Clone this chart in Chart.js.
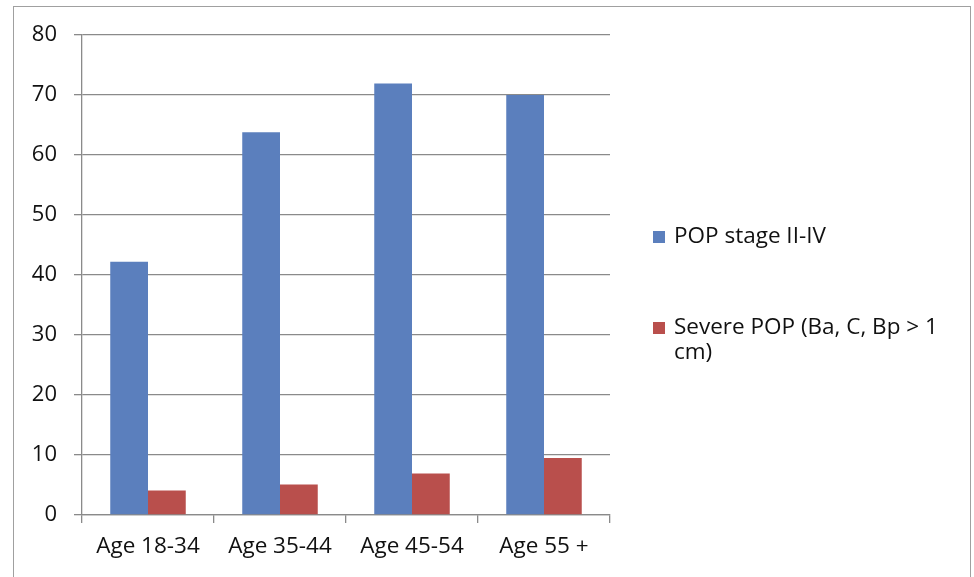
<!DOCTYPE html>
<html>
<head>
<meta charset="utf-8">
<script src="https://cdn.jsdelivr.net/npm/chart.js@4.4.1/dist/chart.umd.min.js"></script>
<style>
  body { margin: 0; background: #fff; }
  #wrap { position: relative; width: 974px; height: 577px; }
  #frame { position: absolute; left: 13px; top: 6px; width: 958px; height: 580px;
           border: 1px solid #a0a0a0; border-bottom: none; box-sizing: border-box; }
  canvas { position: absolute; left: 0; top: 0; }
</style>
</head>
<body>
<div id="wrap">
  <div id="frame"></div>
  <canvas id="chart" width="974" height="577"></canvas>
</div>
<script>
const categories = ['Age 18-34', 'Age 35-44', 'Age 45-54', 'Age 55 +'];
const popStage = [42.2, 63.8, 71.9, 70.0];
const severePop = [4.1, 5.1, 6.9, 9.5];
const seriesNames = ['POP stage II-IV', 'Severe POP (Ba, C, Bp > 1 cm)'];
const yTicks = [0, 10, 20, 30, 40, 50, 60, 70, 80];

const FONT = '"Open Sans", "Liberation Sans", sans-serif';
const TEXT = '#111';

// legend drawn by hand so the long label wraps like the original
const sideLegend = {
    id: 'sideLegend',
    afterDraw(chart) {
        const ctx = chart.ctx;
        const rows = [237, 328];
        ctx.save();
        ctx.font = '22.5px ' + FONT;
        ctx.textBaseline = 'middle';
        chart.data.datasets.forEach((ds, i) => {
            const y = rows[i];
            ctx.fillStyle = ds.backgroundColor;
            ctx.fillRect(653, y - 6, 12, 12);
            ctx.fillStyle = TEXT;
            // simple word wrap
            const words = ds.label.split(' ');
            let line = '';
            let ly = y;
            words.forEach(w => {
                const test = line ? line + ' ' + w : w;
                if (ctx.measureText(test).width > 292 && line) {
                    ctx.fillText(line, 674, ly);
                    line = w;
                    ly += 25;
                } else {
                    line = test;
                }
            });
            ctx.fillText(line, 674, ly);
        });
        ctx.restore();
    }
};

const data = {
    labels: categories,
    datasets: [{
        label: seriesNames[0],
        data: popStage,
        backgroundColor: '#5b7fbd'
    },
    {
        label: seriesNames[1],
        data: severePop,
        backgroundColor: '#b94f4c'
    }]
};

const config = {
    type: 'bar',
    data: data,
    options: {
        responsive: false,
        animation: false,
        devicePixelRatio: 1,
        layout: { padding: { top: 35, right: 364, left: 0, bottom: 0 } },
        datasets: { bar: { categoryPercentage: 0.572, barPercentage: 1.0 } },
        plugins: {
            legend: { display: false },
            tooltip: { enabled: false }
        },
        scales: {
            x: {
                offset: true,
                grid: { offset: true, drawOnChartArea: false, drawTicks: true, tickLength: 8, color: '#8a8a8a', lineWidth: 1.3 },
                border: { display: true, color: '#8a8a8a', width: 1.3 },
                ticks: { color: TEXT, font: { family: FONT, size: 22.5 }, padding: 10, maxRotation: 0 },
                afterFit: (s) => { s.height = 62; }
            },
            y: {
                min: 0,
                max: 80,
                afterBuildTicks: (s) => { s.ticks = yTicks.map(v => ({ value: v })); },
                grid: { color: '#8a8a8a', lineWidth: 1.3, tickLength: 8 },
                border: { display: true, color: '#8a8a8a', width: 1.3 },
                ticks: { color: TEXT, font: { family: FONT, size: 22 }, padding: 17 },
                afterFit: (s) => { s.width = 82; }
            }
        }
    },
    plugins: [sideLegend]
};

const chart = new Chart(document.getElementById('chart'), config);
</script>
</body>
</html>
